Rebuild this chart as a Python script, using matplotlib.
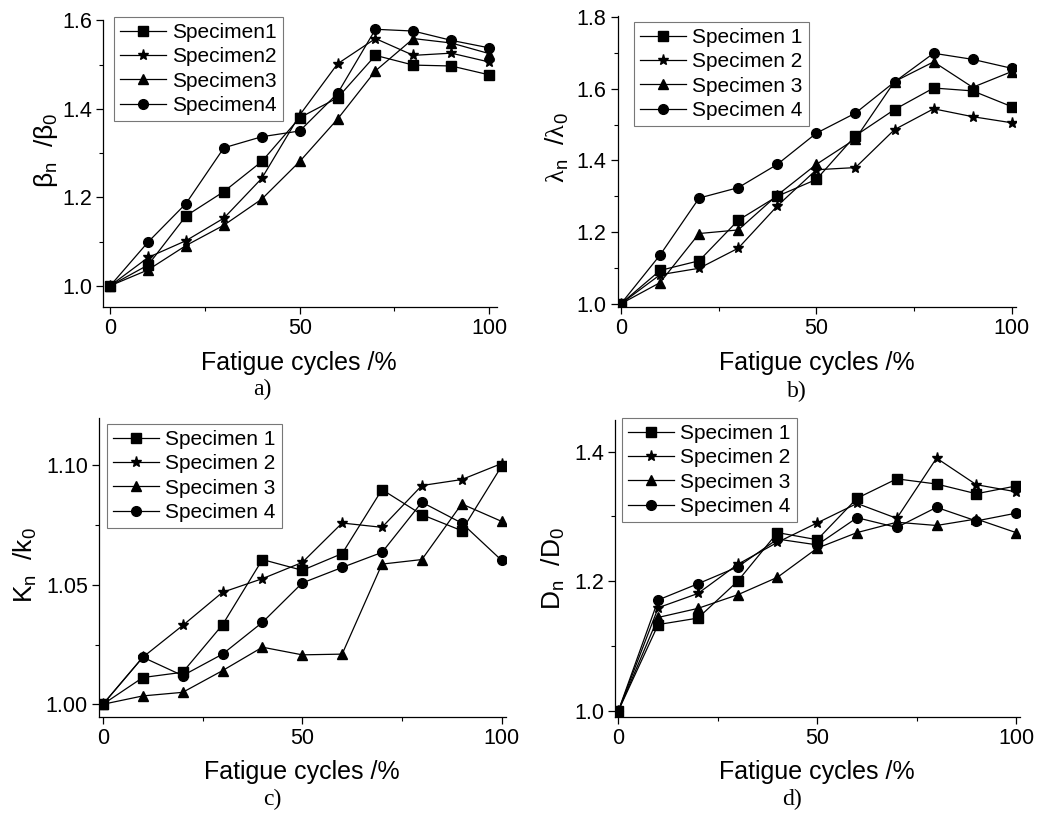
import numpy as np
import matplotlib
matplotlib.use("Agg")
import matplotlib.pyplot as plt
from matplotlib.ticker import MultipleLocator

plt.rcParams['font.family'] = ['Liberation Sans', 'DejaVu Sans']
plt.rcParams['mathtext.fontset'] = 'custom'
plt.rcParams['mathtext.rm'] = 'Liberation Sans'
plt.rcParams['mathtext.it'] = 'Liberation Sans'
plt.rcParams['mathtext.sf'] = 'Liberation Serif'

cycles = [0, 10, 20, 30, 40, 50, 60, 70, 80, 90, 100]

# a) beta_n / beta_0
beta_s1 = [1.0, 1.047, 1.158, 1.213, 1.281, 1.380, 1.425, 1.521, 1.499, 1.497, 1.477]
beta_s2 = [1.0, 1.064, 1.102, 1.153, 1.243, 1.386, 1.502, 1.559, 1.521, 1.526, 1.506]
beta_s3 = [1.0, 1.036, 1.091, 1.137, 1.196, 1.281, 1.377, 1.486, 1.559, 1.549, 1.525]
beta_s4 = [1.0, 1.099, 1.186, 1.312, 1.337, 1.350, 1.435, 1.580, 1.576, 1.555, 1.538]

# b) lambda_n / lambda_0
lam_s1 = [1.0, 1.093, 1.120, 1.233, 1.300, 1.347, 1.469, 1.542, 1.602, 1.594, 1.550]
lam_s2 = [1.0, 1.081, 1.099, 1.155, 1.273, 1.374, 1.380, 1.486, 1.544, 1.522, 1.505]
lam_s3 = [1.0, 1.059, 1.196, 1.206, 1.303, 1.389, 1.460, 1.620, 1.675, 1.604, 1.648]
lam_s4 = [1.0, 1.136, 1.295, 1.324, 1.389, 1.476, 1.532, 1.619, 1.699, 1.682, 1.657]

# c) K_n / k_0
k_s1 = [1.0, 1.0112, 1.0134, 1.0333, 1.0606, 1.0561, 1.0631, 1.0899, 1.0794, 1.0727, 1.0997]
k_s2 = [1.0, 1.0197, 1.0330, 1.0469, 1.0526, 1.0594, 1.0759, 1.0741, 1.0916, 1.0941, 1.1008]
k_s3 = [1.0, 1.0035, 1.0050, 1.0141, 1.0239, 1.0207, 1.0210, 1.0587, 1.0606, 1.0839, 1.0766]
k_s4 = [1.0, 1.0197, 1.0120, 1.0210, 1.0343, 1.0508, 1.0573, 1.0636, 1.0846, 1.0759, 1.0603]

# d) D_n / D_0
d_s1 = [1.0, 1.133, 1.143, 1.200, 1.275, 1.264, 1.328, 1.358, 1.350, 1.335, 1.347]
d_s2 = [1.0, 1.159, 1.181, 1.226, 1.260, 1.290, 1.320, 1.297, 1.390, 1.349, 1.338]
d_s3 = [1.0, 1.144, 1.158, 1.179, 1.206, 1.251, 1.275, 1.291, 1.286, 1.296, 1.275]
d_s4 = [1.0, 1.171, 1.196, 1.222, 1.265, 1.256, 1.298, 1.283, 1.314, 1.293, 1.305]

markers = ['s', '*', '^', 'o']
msizes = [6.5, 8, 7, 7]
labels_a = ['Specimen1', 'Specimen2', 'Specimen3', 'Specimen4']
labels_b = ['Specimen 1', 'Specimen 2', 'Specimen 3', 'Specimen 4']

fig = plt.figure(figsize=(10.43, 8.16), dpi=100)
fig.patch.set_facecolor('white')


def panel(rect, series, labels, xlim, ylim, ymajor, yminor, yfmt, ylabel, caption,
          cap_xy, xl_xy, yl_xy, leg_anchor):
    ax = fig.add_axes(rect)
    for s, m, ms, lab in zip(series, markers, msizes, labels):
        ax.plot(cycles, s, color='black', lw=0.9, marker=m, markersize=ms, label=lab)
    ax.set_xlim(*xlim)
    ax.set_ylim(*ylim)
    ax.spines['top'].set_visible(False)
    ax.spines['right'].set_visible(False)
    ax.spines['left'].set_linewidth(0.9)
    ax.spines['bottom'].set_linewidth(0.9)
    ax.set_xticks([0, 50, 100])
    ax.xaxis.set_minor_locator(MultipleLocator(25))
    ax.yaxis.set_major_locator(MultipleLocator(ymajor))
    ax.yaxis.set_minor_locator(MultipleLocator(yminor))
    ax.yaxis.set_major_formatter(plt.FormatStrFormatter(yfmt))
    ax.tick_params(which='major', direction='out', length=5, width=0.9, labelsize=15.5, pad=3)
    ax.tick_params(which='minor', direction='out', length=3, width=0.8)
    leg = ax.legend(loc='upper left', bbox_to_anchor=leg_anchor, bbox_transform=fig.transFigure,
                    fontsize=15, frameon=True, fancybox=False, handlelength=2.2,
                    handletextpad=0.3, borderpad=0.3, labelspacing=0.25, borderaxespad=0)
    leg.get_frame().set_edgecolor('#555555')
    leg.get_frame().set_linewidth(0.8)
    fig.text(xl_xy[0] / 1043, 1 - xl_xy[1] / 816, 'Fatigue cycles /%', fontsize=18,
             ha='center', va='center')
    fig.text(yl_xy[0] / 1043, 1 - yl_xy[1] / 816, ylabel, fontsize=19, rotation=90,
             ha='center', va='center')
    fig.text(cap_xy[0] / 1043, 1 - cap_xy[1] / 816, caption, fontsize=17,
             family='Liberation Serif', ha='center', va='center')
    return ax


panel([0.0988, 0.6238, 0.3778, 0.3517], [beta_s1, beta_s2, beta_s3, beta_s4], labels_a,
      (-1.9, 102.1), (0.952, 1.601), 0.2, 0.1, '%.1f', r'$\mathregular{β_n\ \ /β_0}$', 'a)',
      (262, 389), (299, 363), (46, 150), (114 / 1043, 1 - 17 / 816))

panel([0.5922, 0.6238, 0.3816, 0.3566], [lam_s1, lam_s2, lam_s3, lam_s4], labels_b,
      (-0.85, 101.0), (0.991, 1.803), 0.2, 0.1, '%.1f',
      r'$\mathsf{λ}_\mathregular{n}\ \ /\mathsf{λ}_\mathregular{0}$', 'b)',
      (797, 391), (817, 363), (557, 148), (634 / 1043, 1 - 22 / 816))

panel([0.0949, 0.1217, 0.3902, 0.3664], [k_s1, k_s2, k_s3, k_s4], labels_b,
      (-1.0, 101.1), (0.9948, 1.120), 0.05, 0.025, '%.2f', r'$\mathregular{K_n\ \ /k_0}$', 'c)',
      (272, 799), (302, 772), (25, 565), (107 / 1043, 1 - 424 / 816))

panel([0.5897, 0.1211, 0.3883, 0.3643], [d_s1, d_s2, d_s3, d_s4], labels_b,
      (-0.84, 101.0), (0.990, 1.449), 0.2, 0.1, '%.1f', r'$\mathregular{D_n\ \ /D_0}$', 'd)',
      (792, 799), (817, 772), (553, 568), (622 / 1043, 1 - 418 / 816))

plt.savefig('out.png', dpi=100)
